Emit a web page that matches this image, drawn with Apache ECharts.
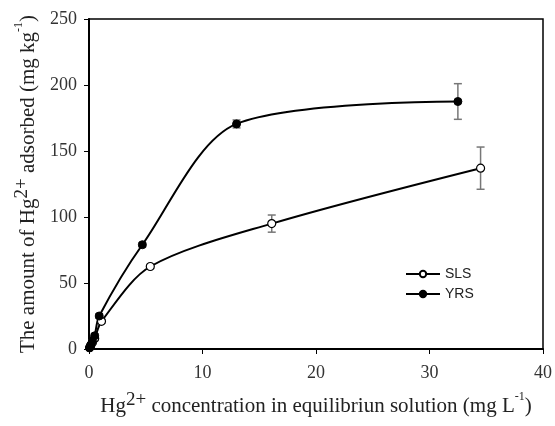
<!DOCTYPE html>
<html>
<head>
<meta charset="utf-8">
<script src="https://cdn.jsdelivr.net/npm/echarts@6/dist/echarts.min.js"></script>
<style>
  html, body { margin: 0; padding: 0; background: #fff; }
  #chart { width: 555px; height: 426px; }
</style>
</head>
<body>
<div id="chart"></div>
<script>
// concentration (mg/L), adsorbed (mg/kg), error (+/-)
const slsX = [0.05, 0.15, 0.3, 0.5, 1.1, 5.4, 16.1, 34.5];
const slsY = [1, 2.5, 5, 8, 21, 62.5, 95, 137];
const slsErr = [0.5, 0.8, 1, 1.5, 1.5, 1.5, 6.5, 16];

const yrsX = [0.05, 0.15, 0.3, 0.5, 0.9, 4.7, 13, 32.5];
const yrsY = [1, 3, 6, 10, 25, 79, 170.5, 187.5];
const yrsErr = [0.5, 0.8, 1, 1.5, 1.5, 1.5, 3, 13.5];

const xTicks = [0, 10, 20, 30, 40];
const yTicks = [0, 50, 100, 150, 200, 250];

const pairs = (xs, ys) => xs.map((x, i) => [x, ys[i]]);
const errRows = (xs, ys, es) => xs.map((x, i) => [x, ys[i] - es[i], ys[i] + es[i]]);

function errorBar(params, api) {
  const lo = api.coord([api.value(0), api.value(1)]);
  const hi = api.coord([api.value(0), api.value(2)]);
  const w = 4;
  const st = { stroke: '#777', lineWidth: 1.5 };
  return {
    type: 'group',
    children: [
      { type: 'line', shape: { x1: lo[0], y1: lo[1], x2: hi[0], y2: hi[1] }, style: st },
      { type: 'line', shape: { x1: lo[0] - w, y1: lo[1], x2: lo[0] + w, y2: lo[1] }, style: st },
      { type: 'line', shape: { x1: hi[0] - w, y1: hi[1], x2: hi[0] + w, y2: hi[1] }, style: st }
    ]
  };
}

const serif = 'Liberation Serif, Times New Roman, serif';
const nameRich = {
  t: { fontFamily: serif, fontSize: 21, color: '#222', verticalAlign: 'bottom', lineHeight: 26 },
  sup: { fontFamily: serif, fontSize: 19, color: '#222', verticalAlign: 'top', lineHeight: 26 },
  s: { fontFamily: serif, fontSize: 12, color: '#222', verticalAlign: 'top', lineHeight: 26 }
};

const chart = echarts.init(document.getElementById('chart'));
chart.setOption({
  animation: false,
  backgroundColor: '#fff',
  grid: { left: 89, right: 9, top: 19, bottom: 77, show: true, borderColor: '#000', borderWidth: 1.5 },
  legend: {
    orient: 'vertical',
    left: 400, top: 262,
    itemWidth: 34, itemHeight: 8, itemGap: 6,
    textStyle: { fontFamily: 'Liberation Sans, Arial, sans-serif', fontSize: 14, color: '#222' },
    data: ['SLS', 'YRS']
  },
  xAxis: {
    type: 'value', min: 0, max: 40, interval: 10,
    axisLine: { lineStyle: { color: '#000', width: 2 } },
    axisTick: { show: true, inside: false, length: 5, lineStyle: { color: '#000' } },
    splitLine: { show: false },
    axisLabel: { color: '#333', fontFamily: serif, fontSize: 18, margin: 15,
      formatter: v => xTicks.includes(v) ? String(v) : '' },
    name: '{t|Hg}{sup|2+}{t| concentration in equilibriun solution (mg L}{s|-1}{t|)}',
    nameLocation: 'middle', nameGap: 42,
    nameTextStyle: { rich: nameRich }
  },
  yAxis: {
    type: 'value', min: 0, max: 250, interval: 50,
    axisLine: { lineStyle: { color: '#000', width: 2 } },
    axisTick: { show: true, inside: false, length: 5, lineStyle: { color: '#000' } },
    splitLine: { show: false },
    axisLabel: { color: '#333', fontFamily: serif, fontSize: 18, margin: 12,
      formatter: v => yTicks.includes(v) ? String(v) : '' },
    name: '{t|The amount of Hg}{sup|2+}{t| adsorbed (mg kg}{s|-1}{t|)}',
    nameLocation: 'middle', nameGap: 50, nameRotate: 90,
    nameTextStyle: { rich: nameRich }
  },
  series: [
    {
      name: 'SLS-err', type: 'custom', renderItem: errorBar,
      data: errRows(slsX, slsY, slsErr), z: 1, silent: true
    },
    {
      name: 'YRS-err', type: 'custom', renderItem: errorBar,
      data: errRows(yrsX, yrsY, yrsErr), z: 1, silent: true
    },
    {
      name: 'SLS', type: 'line', smooth: 0.3, z: 3,
      data: pairs(slsX, slsY),
      symbol: 'circle', symbolSize: 8,
      lineStyle: { color: '#000', width: 2 },
      itemStyle: { color: '#fff', borderColor: '#000', borderWidth: 1.2 }
    },
    {
      name: 'YRS', type: 'line', smooth: 0.3, z: 3,
      data: pairs(yrsX, yrsY),
      symbol: 'circle', symbolSize: 8,
      lineStyle: { color: '#000', width: 2 },
      itemStyle: { color: '#000', borderColor: '#000', borderWidth: 1 }
    }
  ]
});
</script>
</body>
</html>
